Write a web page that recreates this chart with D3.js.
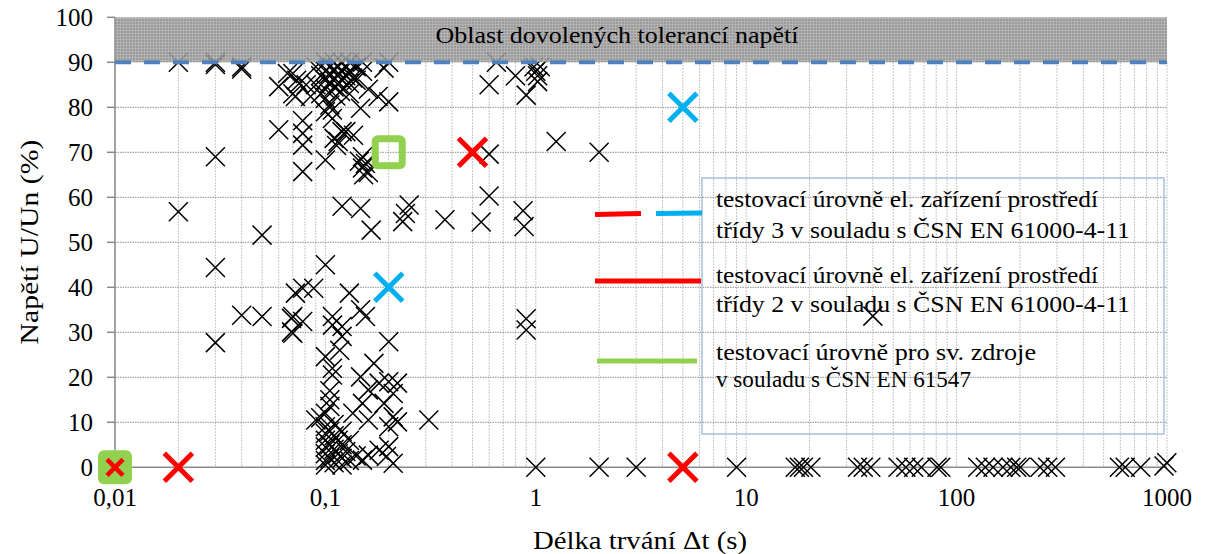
<!DOCTYPE html>
<html>
<head>
<meta charset="utf-8">
<script src="https://cdn.jsdelivr.net/npm/d3@7"></script>
<style>
	body { margin: 0; background: #fff; }
</style>
</head>
<body>
<svg id="chart" width="1207" height="554"></svg>
<script>
// tick labels
let xTicks = [0.01, 0.1, 1, 10, 100, 1000]
let xTickLabels = ['0,01', '0,1', '1', '10', '100', '1000']
let yTicks = [0, 10, 20, 30, 40, 50, 60, 70, 80, 90, 100]

// measured dips (black crosses): duration [s], voltage [% Un]
let eventDurations = [
	0.02, 0.03, 0.03, 0.04, 0.04, 0.06, 0.06, 0.03, 0.02, 0.05, 0.03, 0.04, 0.05, 0.03, 0.07, 0.07, 0.072,
	0.07, 0.07, 0.073, 0.075, 0.072, 0.081, 0.085, 0.078, 0.078, 0.078, 0.078, 0.066,
	0.09, 0.095, 0.1, 0.1, 0.1, 0.1, 0.105, 0.105, 0.105, 0.11, 0.11, 0.11, 0.11, 0.115, 0.115, 0.115,
	0.12, 0.12, 0.12, 0.125, 0.125, 0.13, 0.13, 0.135, 0.14, 0.09, 0.095, 0.1, 0.105, 0.112, 0.118,
	0.108, 0.1, 0.108, 0.14, 0.15, 0.13, 0.16, 0.15, 0.13, 0.2, 0.19, 0.178, 0.2, 0.147,
	0.1, 0.11, 0.115, 0.12, 0.113, 0.125, 0.136, 0.145, 0.15, 0.155, 0.16, 0.15, 0.152,
	0.12, 0.147, 0.165, 0.25, 0.24, 0.233, 0.37, 0.55, 0.6, 0.87, 0.88, 0.9, 0.9,
	0.6, 0.8, 0.65, 1, 1.05, 0.98, 1.02, 1.02, 0.9, 0.6, 1.25, 2,
	0.1, 0.078, 0.088, 0.13, 0.069, 0.069, 0.078, 0.108, 0.108, 0.12, 0.12, 0.155, 0.147, 0.2,
	0.1, 0.117, 0.108, 0.108, 0.17, 0.147, 0.18, 0.2, 0.22, 0.16, 0.21, 0.19, 0.105, 0.105, 0.105,
	0.15, 0.135, 0.09, 0.21, 0.22, 0.2, 0.31, 0.16,
	0.1, 0.1, 0.1, 0.1, 0.1, 0.1, 0.1, 0.105, 0.105, 0.105, 0.11, 0.11, 0.11, 0.11, 0.115, 0.115,
	0.12, 0.12, 0.12, 0.12, 0.125, 0.13, 0.13, 0.14, 0.15, 0.16, 0.18, 0.195, 0.21, 0.2, 0.1, 0.095,
	1, 2, 3, 9, 17.1, 17.9, 18.7, 20.3, 33.8, 36, 39.1, 52.7, 57.4, 62.5, 68, 80.7, 84.1,
	126, 137, 149, 166, 181, 193, 201, 249, 271, 295, 594, 633, 750, 968, 998, 40
]
let eventVoltages = [
	90, 90, 89.5, 89, 88.5, 84.6, 75, 69, 56.8, 51.6, 44.4, 33.8, 33.5, 27.7, 33.5, 29.8, 38.7,
	87.5, 83, 86, 85.3, 82.4, 85, 82.4, 77, 74.2, 71.6, 65.7, 87.5,
	89, 87, 90, 88, 86, 84, 89, 87.5, 85.5, 90, 88.5, 86.5, 84.5, 89, 87, 85,
	88, 86, 90, 87, 89, 88, 85.3, 86.5, 89, 85, 83, 82, 80.5, 82.5, 83.5,
	79.4, 79, 77.5, 86, 88, 83, 84, 90, 90, 90, 88.7, 82.4, 81.2, 79.8,
	68.3, 73.1, 72.4, 74.6, 71.5, 74.6, 73.8, 68, 66.5, 67.5, 65.5, 69, 65,
	58, 57.5, 52.7, 58.3, 56.4, 54.6, 55, 54.5, 60.3, 57, 53.5, 33, 30.5,
	85, 87, 90, 88, 89, 89, 87, 85.7, 82.7, 69.6, 72.4, 70,
	45, 39.8, 39.8, 38.7, 33.1, 30.1, 32.4, 33.5, 31.6, 31.3, 29.1, 33.5, 35, 27.9,
	24.6, 26, 22, 20.5, 23.1, 20.1, 18.7, 19, 18.7, 17.2, 16.4, 14.2, 17, 15, 13.5,
	14.2, 12, 10.5, 11.2, 10.1, 9, 10.5, 10.5,
	9, 7.5, 6, 4.5, 3, 1.5, 0.5, 8, 5, 2, 9.5, 7, 4, 1, 6, 3,
	8, 5, 2, 0.5, 3.5, 1.5, 6, 2.5, 1.6, 2.7, 3.8, 2.4, 0.9, 4.6, 12, 11,
	0, 0, 0, 0, 0, 0, 0, 0, 0, 0, 0, 0, 0, 0, 0, 0, 0,
	0, 0, 0, 0, 0, 0, 0, 0, 0, 0, 0, 0, 0, 0.3, 1, 33.6
]

// test levels
let class3Durations = [0.2, 5]
let class3Voltages = [40, 80]
let class2Durations = [0.01, 0.02, 0.5, 5]
let class2Voltages = [0, 0, 70, 0]
let lampDurations = [0.01, 0.2]
let lampVoltages = [0, 70]

let bandLabel = 'Oblast dovolených tolerancí napětí'
let legendLines = [
	['testovací úrovně el. zařízení prostředí', 'třídy 3 v souladu s ČSN EN 61000-4-11'],
	['testovací úrovně el. zařízení prostředí', 'třídy 2 v souladu s ČSN EN 61000-4-11'],
	['testovací úrovně pro sv. zdroje', 'v souladu s ČSN EN 61547']
]

let serif = '"Liberation Serif"'
let svg = d3.select('#chart')

let x = d3.scaleLog().domain([0.01, 1000]).range([115, 1167])
let y = d3.scaleLinear().domain([0, 100]).range([467.3, 17.3])

let crossPath = h => `M${-h},${-h}L${h},${h}M${-h},${h}L${h},${-h}`

// band pattern
let pat = svg
	.append('defs')
	.append('pattern')
	.attr('id', 'band')
	.attr('width', 3)
	.attr('height', 3)
	.attr('patternUnits', 'userSpaceOnUse')
pat.append('rect').attr('width', 3).attr('height', 3).attr('fill', '#8c8c8c')
pat.append('rect').attr('width', 3).attr('height', 1).attr('fill', '#a9a9a9')
pat.append('rect').attr('width', 1).attr('height', 3).attr('fill', '#a9a9a9')

// grid
svg
	.append('g')
	.selectAll('line')
	.data(x.ticks())
	.join('line')
	.attr('x1', d => x(d))
	.attr('x2', d => x(d))
	.attr('y1', y(90))
	.attr('y2', y(0))
	.attr('stroke', '#b3b3b3')
	.attr('stroke-width', 1)
	.attr('stroke-dasharray', '1.5,1.5')

svg
	.append('g')
	.selectAll('line')
	.data(yTicks.filter(d => d > 0 && d < 90))
	.join('line')
	.attr('x1', x(0.01))
	.attr('x2', x(1000))
	.attr('y1', d => y(d))
	.attr('y2', d => y(d))
	.attr('stroke', '#8f8f8f')
	.attr('stroke-width', 1)
	.attr('stroke-dasharray', '1.5,1')

// axes
svg
	.append('line')
	.attr('x1', x(0.01))
	.attr('x2', x(0.01))
	.attr('y1', y(100))
	.attr('y2', y(0))
	.attr('stroke', '#8a8a8a')
	.attr('stroke-width', 1.5)
svg
	.append('line')
	.attr('x1', x(0.01))
	.attr('x2', x(1000))
	.attr('y1', y(0))
	.attr('y2', y(0))
	.attr('stroke', '#8a8a8a')
	.attr('stroke-width', 1.5)

svg
	.append('g')
	.selectAll('line')
	.data(yTicks)
	.join('line')
	.attr('x1', x(0.01) - 8)
	.attr('x2', x(0.01))
	.attr('y1', d => y(d))
	.attr('y2', d => y(d))
	.attr('stroke', '#8a8a8a')
	.attr('stroke-width', 1.5)

svg
	.append('g')
	.selectAll('text')
	.data(yTicks)
	.join('text')
	.attr('x', 93)
	.attr('y', d => y(d) + 8.5)
	.attr('text-anchor', 'end')
	.attr('font-size', 25)
	.style('font-family', serif)
	.text(d => d)

svg
	.append('g')
	.selectAll('text')
	.data(xTicks)
	.join('text')
	.attr('x', d => x(d))
	.attr('y', 506)
	.attr('text-anchor', 'middle')
	.attr('font-size', 25)
	.style('font-family', serif)
	.text((d, i) => xTickLabels[i])

svg
	.append('text')
	.attr('x', 640)
	.attr('y', 549)
	.attr('text-anchor', 'middle')
	.attr('font-size', 26)
	.attr('textLength', 214)
	.attr('lengthAdjust', 'spacingAndGlyphs')
	.style('font-family', serif)
	.text('Délka trvání Δt (s)')

svg
	.append('text')
	.attr('transform', 'translate(38,242) rotate(-90)')
	.attr('text-anchor', 'middle')
	.attr('font-size', 26)
	.attr('textLength', 205)
	.attr('lengthAdjust', 'spacingAndGlyphs')
	.style('font-family', serif)
	.text('Napětí U/Un (%)')

// measured events
svg
	.append('g')
	.selectAll('path')
	.data(eventDurations)
	.join('path')
	.attr('transform', (d, i) => `translate(${x(d)},${y(eventVoltages[i])})`)
	.attr('d', crossPath(9.5))
	.attr('stroke', '#000')
	.attr('stroke-width', 1.5)
	.attr('fill', 'none')

// tolerance band
svg
	.append('rect')
	.attr('x', x(0.01))
	.attr('y', y(100))
	.attr('width', x(1000) - x(0.01))
	.attr('height', y(90) - y(100))
	.attr('fill', 'url(#band)')
	.attr('opacity', 0.88)

svg
	.append('text')
	.attr('x', 617)
	.attr('y', 43)
	.attr('text-anchor', 'middle')
	.attr('font-size', 23)
	.attr('textLength', 363)
	.attr('lengthAdjust', 'spacingAndGlyphs')
	.style('font-family', serif)
	.text(bandLabel)

svg
	.append('line')
	.attr('x1', x(0.01))
	.attr('x2', x(1000))
	.attr('y1', y(90))
	.attr('y2', y(90))
	.attr('stroke', '#4f81bd')
	.attr('stroke-width', 4)
	.attr('stroke-dasharray', '16,13')

// test levels
svg
	.append('g')
	.selectAll('rect')
	.data(lampDurations)
	.join('rect')
	.attr('x', d => x(d) - 13.5)
	.attr('y', (d, i) => y(lampVoltages[i]) - 13.5)
	.attr('width', 27)
	.attr('height', 27)
	.attr('rx', 2.5)
	.attr('fill', (d, i) => (i === 0 ? '#92d050' : 'none'))
	.attr('stroke', '#92d050')
	.attr('stroke-width', 7)

svg
	.append('g')
	.selectAll('path')
	.data(class2Durations)
	.join('path')
	.attr('transform', (d, i) => `translate(${x(d)},${y(class2Voltages[i])})`)
	.attr('d', d => crossPath(d === 0.01 ? 8 : 14))
	.attr('stroke', '#ff0000')
	.attr('stroke-width', d => (d === 0.01 ? 4.5 : 5))
	.attr('fill', 'none')

svg
	.append('g')
	.selectAll('path')
	.data(class3Durations)
	.join('path')
	.attr('transform', (d, i) => `translate(${x(d)},${y(class3Voltages[i])})`)
	.attr('d', crossPath(14))
	.attr('stroke', '#00b0f0')
	.attr('stroke-width', 5)
	.attr('fill', 'none')

// legend
let legend = svg.append('g')
legend
	.append('rect')
	.attr('x', 702)
	.attr('y', 178)
	.attr('width', 462)
	.attr('height', 256)
	.attr('fill', 'none')
	.attr('stroke', '#a8c0e0')
	.attr('stroke-width', 1.5)

legend.append('line').attr('x1', 595).attr('x2', 641).attr('y1', 214.5).attr('y2', 213.5)
	.attr('stroke', '#ff0000').attr('stroke-width', 5)
legend.append('line').attr('x1', 656).attr('x2', 702).attr('y1', 213.5).attr('y2', 213)
	.attr('stroke', '#00b0f0').attr('stroke-width', 5)
legend.append('line').attr('x1', 595).attr('x2', 701).attr('y1', 281).attr('y2', 281)
	.attr('stroke', '#ff0000').attr('stroke-width', 5)
legend.append('line').attr('x1', 597).attr('x2', 697).attr('y1', 361).attr('y2', 361)
	.attr('stroke', '#92d050').attr('stroke-width', 5)

let legendBase = [[207, 238], [283, 312], [360, 387]]
let legendWidths = [[382, 414], [382, 414], [320, 255]]
legendLines.forEach((pair, k) => {
	pair.forEach((line, j) => {
		legend
			.append('text')
			.attr('x', 716)
			.attr('y', legendBase[k][j])
			.attr('font-size', 23)
			.attr('textLength', legendWidths[k][j])
			.attr('lengthAdjust', 'spacingAndGlyphs')
			.style('font-family', serif)
			.text(line)
	})
})
</script>
</body>
</html>
